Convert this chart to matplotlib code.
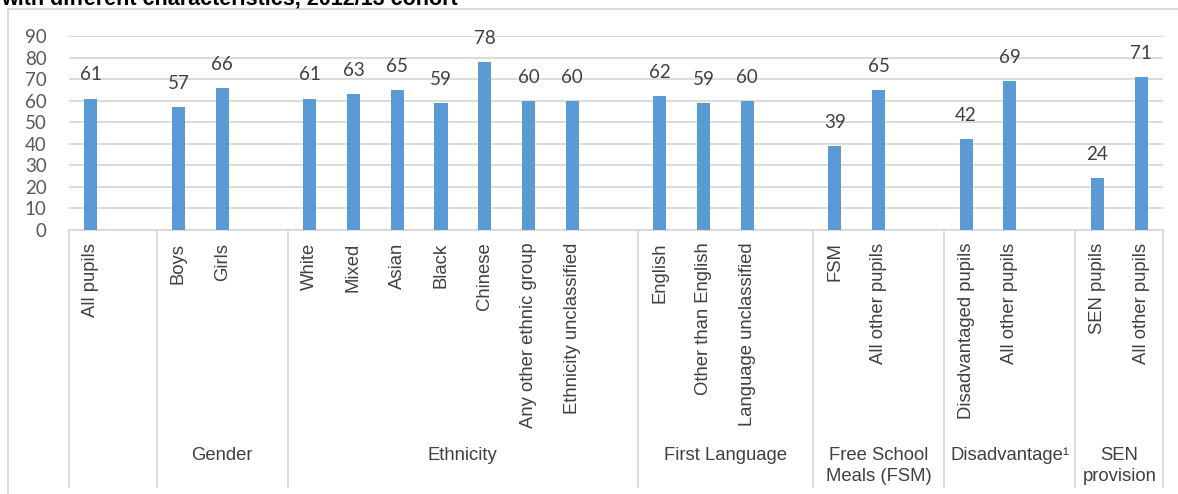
import matplotlib
matplotlib.use("Agg")
import matplotlib.pyplot as plt
from matplotlib.lines import Line2D
from matplotlib.transforms import blended_transform_factory

# ---- data ----
group_names = ["", "Gender", "Ethnicity", "First Language",
               "Free School\nMeals (FSM)", "Disadvantage\u00b9", "SEN\nprovision"]
group_items = [
    ["All pupils"],
    ["Boys", "Girls"],
    ["White", "Mixed", "Asian", "Black", "Chinese", "Any other ethnic group",
     "Ethnicity unclassified"],
    ["English", "Other than English", "Language unclassified"],
    ["FSM", "All other pupils"],
    ["Disadvantaged pupils", "All other pupils"],
    ["SEN pupils", "All other pupils"],
]
group_values = [
    [61],
    [57, 66],
    [61, 63, 65, 59, 78, 60, 60],
    [62, 59, 60],
    [39, 65],
    [42, 69],
    [24, 71],
]
y_ticks = [0, 10, 20, 30, 40, 50, 60, 70, 80, 90]
title = "with different characteristics, 2012/13 cohort"

BAR = "#5B9BD5"
TXT = "#404040"
GRID = "#D9D9D9"

W, H = 1178, 494
fig = plt.figure(figsize=(W / 100, H / 100), dpi=100)
ax_left, ax_right = 69 / W, 1163 / W
ax_bottom, ax_top = 1 - 230 / H, 1 - 36 / H
ax = fig.add_axes([ax_left, ax_bottom, ax_right - ax_left, ax_top - ax_bottom])

# slot positions (one blank slot after each group except the last)
positions, labels, values, seps, gcenters = [], [], [], [0], []
slot = 0
for gi, (items, vals) in enumerate(zip(group_items, group_values)):
    start = slot
    for it, v in zip(items, vals):
        positions.append(slot + 0.5)
        labels.append(it)
        values.append(v)
        slot += 1
    if gi < len(group_items) - 1:
        slot += 1
    seps.append(slot)
    gcenters.append((start + slot) / 2)
n_slots = slot

ax.bar(positions, values, width=0.30, color=BAR, zorder=3)
for x, v in zip(positions, values):
    ax.annotate(f"{v:.0f}", (x, v), xytext=(0, 13), textcoords="offset points",
                ha="center", va="baseline", fontsize=13.5, color=TXT,
                family="Lato", zorder=4)

ax.set_xlim(0, n_slots)
ax.set_ylim(0, 90)
ax.set_yticks(y_ticks)
ax.set_yticklabels([str(t) for t in y_ticks], family="Lato", fontsize=13.5,
                   color="#595959")
ax.tick_params(axis="y", length=0, pad=16)
ax.grid(axis="y", color=GRID, linewidth=1.3, zorder=0)
for s in ["top", "right", "left"]:
    ax.spines[s].set_visible(False)
ax.spines["bottom"].set_color(GRID)
ax.spines["bottom"].set_linewidth(1.3)

ax.set_xticks(positions)
ax.set_xticklabels(labels, rotation=90, ha="center", va="top",
                   family="Liberation Sans", fontsize=13.3, color=TXT)
ax.tick_params(axis="x", length=0, pad=9)

# group separators
trans = blended_transform_factory(ax.transData, ax.transAxes)
y_bot = (230 - 487) / (230 - 36)
for s in seps:
    ax.plot([s, s], [0, y_bot], transform=trans, color=GRID, linewidth=1.3,
            clip_on=False, zorder=1)

# group labels
y_g = (230 - 447) / (230 - 36)
for name, c in zip(group_names, gcenters):
    if name:
        ax.text(c, y_g, name, transform=trans, ha="center", va="top",
                family="Liberation Sans", fontsize=13.3, color=TXT,
                linespacing=1.3)

# outer chart frame (partially visible)
fig.add_artist(Line2D([8 / W, 1.0], [1 - 9 / H, 1 - 9 / H],
                      transform=fig.transFigure, color=GRID, linewidth=1.3))
fig.add_artist(Line2D([8 / W, 8 / W], [0, 1 - 9 / H],
                      transform=fig.transFigure, color=GRID, linewidth=1.3))

# title, clipped at the top edge as in the reference
fig.text(1 / W, 1 - 4 / H, title, ha="left", va="baseline",
         family="Liberation Sans", fontweight="bold", fontsize=15.5,
         color="black")

fig.savefig("out.png", dpi=100)
